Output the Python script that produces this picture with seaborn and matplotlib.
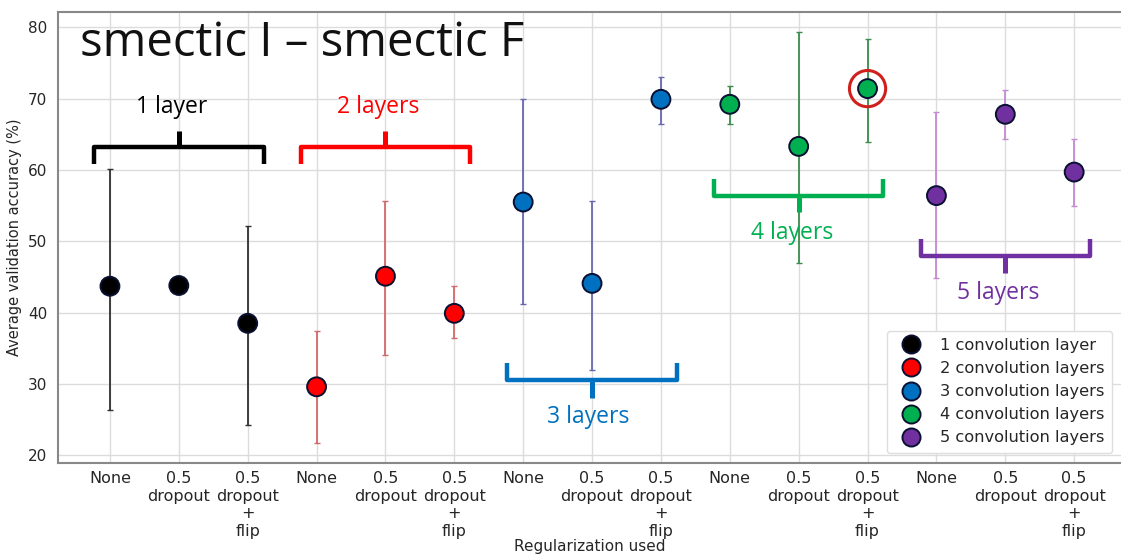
import matplotlib
matplotlib.use("Agg")
import matplotlib.pyplot as plt
import seaborn as sns
import pandas as pd
import numpy as np
from matplotlib.lines import Line2D

# ---- data ----
reg_labels = ["None", "0.5\ndropout", "0.5\ndropout\n+\nflip"]
groups = ["1 convolution layer", "2 convolution layers", "3 convolution layers",
          "4 convolution layers", "5 convolution layers"]
acc_1 = [43.7, 43.8, 38.5]
acc_2 = [29.6, 45.1, 39.9]
acc_3 = [55.5, 44.1, 69.9]
acc_4 = [69.2, 63.3, 71.4]
acc_5 = [56.4, 67.8, 59.7]
lo_1 = [26.4, 43.3, 24.3]
lo_2 = [21.7, 34.1, 36.4]
lo_3 = [41.2, 32.0, 66.4]
lo_4 = [66.4, 46.9, 63.9]
lo_5 = [44.9, 64.4, 54.9]
hi_1 = [60.2, 44.3, 52.2]
hi_2 = [37.4, 55.6, 43.7]
hi_3 = [69.9, 55.7, 73.0]
hi_4 = [71.7, 79.3, 78.3]
hi_5 = [68.1, 71.2, 64.4]
brace_labels = ["1 layer", "2 layers", "3 layers", "4 layers", "5 layers"]

point_colors = ["#000000", "#ff0000", "#0070c0", "#00b050", "#7030a0"]
err_colors = ["#303030", "#d06a6a", "#6868b0", "#3c8c4c", "#c48ad4"]
brace_colors = ["#000000", "#ff0000", "#0070c0", "#00b050", "#7030a0"]

accs = [acc_1, acc_2, acc_3, acc_4, acc_5]
los = [lo_1, lo_2, lo_3, lo_4, lo_5]
his = [hi_1, hi_2, hi_3, hi_4, hi_5]

rows = []
for g, name in enumerate(groups):
    for r in range(3):
        rows.append(dict(pos=3 * g + r, group=name, acc=accs[g][r],
                         lo=los[g][r], hi=his[g][r]))
df = pd.DataFrame(rows)

sns.set_theme(style="whitegrid")
plt.rcParams['font.family'] = ['DejaVu Sans']

fig = plt.figure(figsize=(11.21, 5.58), dpi=100)
ax = fig.add_axes([0.052, 0.170, 0.948, 0.808])

# error bars
for g in range(5):
    sub = df[df.group == groups[g]]
    ax.errorbar(sub.pos, sub.acc, yerr=[sub.acc - sub.lo, sub.hi - sub.acc],
                fmt="none", ecolor=err_colors[g], elinewidth=1.3, capsize=2.5,
                capthick=1.0, zorder=2)

sns.scatterplot(data=df, x="pos", y="acc", hue="group", palette=point_colors,
                s=185, edgecolor="#0a1030", linewidth=1.4, ax=ax, zorder=3,
                legend=False)

# red circle highlight around best 4-layer point
best = df[df.group == groups[3]].sort_values("acc").iloc[-1]
ax.scatter([best.pos], [best.acc], s=680, facecolors="none",
           edgecolors="#d0201c", linewidths=2.2, zorder=4)

ax.set_xlim(-0.75, 14.68)
ax.set_ylim(18.9, 82.1)
ax.set_yticks([20, 30, 40, 50, 60, 70, 80])
ax.set_xticks(range(15))
ax.set_xticklabels(reg_labels * 5, fontsize=11.5, linespacing=1.2)
ax.tick_params(axis="y", labelsize=11, pad=2)
ax.tick_params(axis="x", pad=0)
ax.set_xlabel("Regularization used", fontsize=11, labelpad=0)
ax.set_ylabel("Average validation accuracy (%)", fontsize=10.5, labelpad=4)
ax.grid(True, color="#dcdcdc", linewidth=1.0)
ax.set_facecolor("white")
for s in ["left", "bottom", "top"]:
    ax.spines[s].set_color("#888888")
    ax.spines[s].set_linewidth(1.5)
ax.spines["right"].set_visible(False)

# braces (annotation shapes)
brace_h = [63.2, 63.2, 30.6, 56.3, 48.0]
brace_leg = [60.9, 60.9, 32.9, 58.7, 50.3]
brace_tip = [65.4, 65.4, 28.1, 54.1, 45.6]
label_y = [68.8, 68.8, 25.3, 51.1, 42.7]
for g in range(5):
    c = 3 * g + 1
    l, r = c - 1.23, c + 1.23
    col = brace_colors[g]
    ax.plot([l, l, r, r], [brace_leg[g], brace_h[g], brace_h[g], brace_leg[g]],
            color=col, lw=3.2, solid_joinstyle="round", solid_capstyle="butt",
            zorder=5, clip_on=False)
    ax.plot([c, c], [brace_h[g], brace_tip[g]], color=col, lw=3.6,
            solid_capstyle="butt", zorder=5)
    ax.text(c - 0.1 if g != 2 else c - 0.05, label_y[g], brace_labels[g],
            color=col, fontsize=16.5, ha="center", va="center",
            family=["Open Sans", "DejaVu Sans"], zorder=6)

ax.text(0.02, 0.985, "smectic I \u2013 smectic F", transform=ax.transAxes,
        fontsize=34, ha="left", va="top", family=["Open Sans", "DejaVu Sans"],
        color="#111111", zorder=6)

handles = [Line2D([], [], marker="o", linestyle="none", markersize=13,
                  markerfacecolor=point_colors[g], markeredgecolor="#0a1030",
                  markeredgewidth=1.4) for g in range(5)]
leg = ax.legend(handles, groups, loc="lower right", fontsize=11.7,
                frameon=True, framealpha=1.0, edgecolor="#dddddd",
                handletextpad=0.8, labelspacing=0.5, borderpad=0.45,
                bbox_to_anchor=(0.999, 0.005))
leg.set_zorder(7)

fig.savefig("out.png", dpi=100, facecolor="white")
